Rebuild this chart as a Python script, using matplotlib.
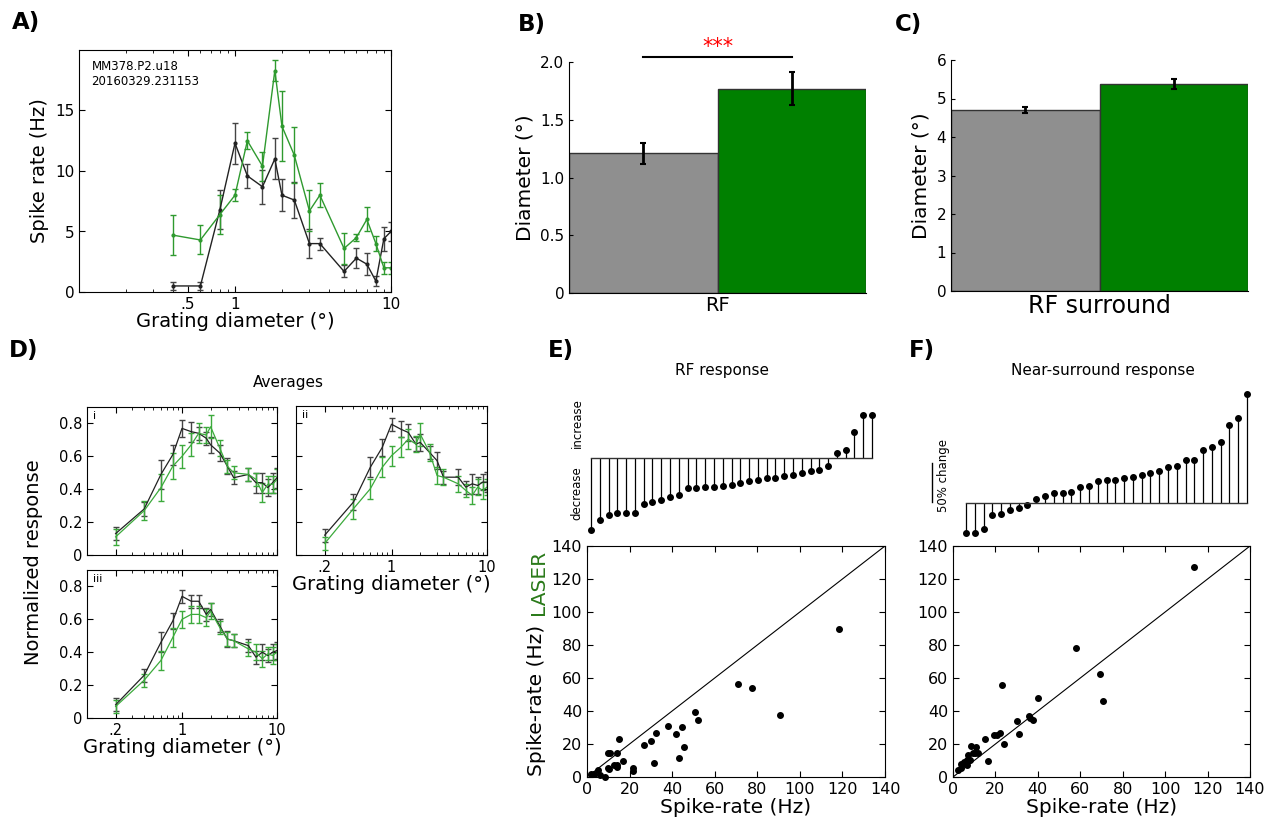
import numpy as np
import matplotlib
matplotlib.use('Agg')
import matplotlib.pyplot as plt
from matplotlib.ticker import FixedLocator, FixedFormatter, NullFormatter, LogLocator

W, H = 1265, 817

# ---- panel A: example unit, tuning curve ----
diam_a = [0.4, 0.6, 0.8, 1.0, 1.2, 1.5, 1.8, 2.0, 2.4, 3.0, 3.5, 5.0, 6.0, 7.0, 8.0, 9.0, 10.0]
ctrl_a = [0.5, 0.5, 6.8, 12.3, 9.6, 8.7, 11.0, 8.0, 7.6, 4.0, 4.0, 1.7, 2.8, 2.3, 0.9, 4.4, 5.0]
ctrl_a_err = [0.35, 0.35, 1.6, 1.7, 1.0, 1.4, 1.7, 1.3, 1.5, 1.2, 0.5, 0.5, 0.8, 0.9, 0.4, 1.0, 0.8]
laser_a = [4.7, 4.3, 6.4, 8.0, 12.5, 10.4, 18.3, 13.7, 11.3, 6.7, 8.0, 3.6, 4.5, 6.0, 4.0, 2.0, 2.0]
laser_a_err = [1.65, 1.2, 1.6, 0.5, 0.7, 1.2, 0.9, 2.9, 2.3, 1.7, 1.0, 1.3, 0.3, 1.0, 0.6, 0.5, 0.5]

# ---- panels B, C: bar charts ----
rf_diam = [1.21, 1.77]
rf_diam_err = [0.09, 0.14]
surr_diam = [4.71, 5.38]
surr_diam_err = [0.08, 0.13]

# ---- panel D: population averages ----
diam_d = [0.2, 0.4, 0.6, 0.8, 1.0, 1.25, 1.5, 1.8, 2.0, 2.5, 3.0, 3.5, 5.0, 6.0, 7.0, 8.0, 9.0, 10.0]
ctrl_i = [0.13, 0.28, 0.49, 0.61, 0.77, 0.75, 0.74, 0.71, 0.67, 0.62, 0.54, 0.47, 0.49, 0.44, 0.44, 0.41, 0.44, 0.47]
ctrl_i_err = [0.04, 0.04, 0.09, 0.06, 0.05, 0.06, 0.04, 0.04, 0.05, 0.05, 0.05, 0.04, 0.04, 0.06, 0.06, 0.05, 0.06, 0.06]
laser_i = [0.11, 0.27, 0.41, 0.54, 0.60, 0.67, 0.74, 0.73, 0.78, 0.65, 0.54, 0.50, 0.49, 0.46, 0.38, 0.43, 0.43, 0.46]
laser_i_err = [0.05, 0.06, 0.08, 0.08, 0.07, 0.07, 0.06, 0.05, 0.07, 0.05, 0.04, 0.04, 0.04, 0.04, 0.06, 0.05, 0.05, 0.06]
ctrl_ii = [0.12, 0.32, 0.53, 0.65, 0.79, 0.76, 0.74, 0.67, 0.68, 0.62, 0.57, 0.47, 0.47, 0.41, 0.43, 0.42, 0.44, 0.44]
ctrl_ii_err = [0.04, 0.05, 0.06, 0.05, 0.04, 0.05, 0.05, 0.04, 0.05, 0.04, 0.05, 0.04, 0.05, 0.04, 0.06, 0.05, 0.05, 0.06]
laser_ii = [0.07, 0.28, 0.40, 0.53, 0.60, 0.65, 0.70, 0.67, 0.73, 0.62, 0.48, 0.47, 0.43, 0.39, 0.36, 0.41, 0.39, 0.41]
laser_ii_err = [0.04, 0.06, 0.06, 0.06, 0.06, 0.06, 0.06, 0.05, 0.07, 0.05, 0.05, 0.05, 0.05, 0.04, 0.05, 0.05, 0.05, 0.05]
ctrl_iii = [0.08, 0.26, 0.46, 0.59, 0.74, 0.71, 0.71, 0.63, 0.66, 0.56, 0.48, 0.47, 0.44, 0.37, 0.40, 0.38, 0.40, 0.41]
ctrl_iii_err = [0.04, 0.04, 0.06, 0.05, 0.04, 0.04, 0.04, 0.04, 0.04, 0.04, 0.05, 0.04, 0.04, 0.04, 0.05, 0.04, 0.05, 0.05]
laser_iii = [0.07, 0.23, 0.35, 0.49, 0.60, 0.63, 0.63, 0.61, 0.65, 0.55, 0.48, 0.47, 0.42, 0.40, 0.36, 0.39, 0.38, 0.40]
laser_iii_err = [0.04, 0.04, 0.06, 0.06, 0.05, 0.05, 0.05, 0.05, 0.05, 0.04, 0.04, 0.04, 0.04, 0.05, 0.05, 0.04, 0.05, 0.05]

# ---- panels E, F: % change per unit (sorted) ----
rf_change = [-93, -80, -73, -71, -71, -71, -59, -57, -54, -50, -48, -39, -39, -38, -38,
             -36, -35, -32, -30, -29, -26.5, -26, -23.5, -22, -19, -17, -16, -11,
             5.6, 10, 33, 55, 55]
surr_change = [-39, -39, -34, -16, -15, -9.4, -6.8, -2.6, 4.3, 8.5, 12, 12, 13.7, 20, 21,
               28, 29, 29.5, 31, 32.5, 35, 38.5, 40.6, 46, 47, 55, 55, 67.5, 71, 78,
               99, 109, 139]

# ---- panels E, F: control vs laser spike rates ----
rf_ctrl = [118.6, 71.0, 77.6, 90.6, 50.8, 52.1, 37.9, 44.7, 41.6, 32.2, 30.2, 26.9, 45.7,
           43.0, 31.3, 15.2, 9.7, 10.9, 14.1, 16.7, 12.5, 13.9, 14.2, 9.7, 10.5, 21.4,
           21.4, 5.2, 3.4, 6.3, 8.3, 2.0]
rf_laser = [89.7, 56.6, 53.9, 37.6, 39.2, 34.5, 30.9, 30.5, 26.1, 26.5, 21.8, 19.2, 18.0,
            11.3, 8.3, 22.8, 14.5, 14.3, 14.3, 9.7, 7.5, 6.1, 7.1, 5.5, 4.8, 5.5,
            3.6, 4.2, 1.8, 1.2, 0.0, 2.0]
surr_ctrl = [113.8, 57.9, 69.2, 70.5, 23.2, 39.9, 35.8, 36.1, 37.7, 30.1, 31.1, 24.0, 22.3,
             20.6, 19.5, 14.9, 16.5, 8.6, 11.0, 9.3, 10.2, 11.6, 7.2, 8.2, 6.7, 6.6,
             6.1, 3.9, 3.9, 2.2, 5.3]
surr_laser = [127.3, 78.2, 62.2, 45.9, 55.8, 47.9, 37.2, 35.8, 34.7, 33.7, 26.1, 19.8, 26.9,
              25.7, 25.3, 23.0, 9.9, 18.6, 18.2, 14.7, 14.7, 14.7, 13.5, 10.1, 10.1, 7.5,
              8.1, 8.1, 5.7, 4.0, 9.1]

GREEN_LINE = '#2f9a2f'
GREEN_BAR = '#008000'
GRAY_BAR = '#8f8f8f'


def rect(x0, y0, x1, y1):
    # pixel box (top-left origin) -> figure fraction
    return [x0 / W, 1 - y1 / H, (x1 - x0) / W, (y1 - y0) / H]


def ptext(fig, x, y, s, **kw):
    fig.text(x / W, 1 - y / H, s, **kw)


def inward(ax, size):
    ax.tick_params(which='both', direction='in', top=True, right=True, labelsize=size)
    ax.tick_params(which='major', length=4)
    ax.tick_params(which='minor', length=2)


def tuning(ax, x, c, ce, l, le, green, lw=1.0, ms=2):
    ax.errorbar(x, c, yerr=ce, color='#222222', ecolor='#444444', lw=lw, elinewidth=1,
                capsize=2, marker='o', ms=ms)
    ax.errorbar(x, l, yerr=le, color=green, ecolor=green, lw=lw, elinewidth=1,
                capsize=2, marker='o', ms=ms)
    ax.set_xscale('log')
    ax.set_xlim(0.1, 10)


fig = plt.figure(figsize=(W / 100, H / 100), dpi=100)

# ---------- A ----------
axA = fig.add_axes(rect(79, 50, 391, 292))
tuning(axA, diam_a, ctrl_a, ctrl_a_err, laser_a, laser_a_err, GREEN_LINE)
axA.set_ylim(0, 20)
axA.set_yticks([0, 5, 10, 15])
axA.set_yticklabels(['0', '5', '10', '15'])
axA.xaxis.set_major_locator(FixedLocator([0.5, 1, 10]))
axA.xaxis.set_major_formatter(FixedFormatter(['.5', '1', '10']))
axA.xaxis.set_minor_locator(LogLocator(subs=np.arange(2, 10)))
axA.xaxis.set_minor_formatter(NullFormatter())
inward(axA, 11)
axA.set_ylabel('Spike rate (Hz)', fontsize=14, labelpad=4)
axA.set_xlabel('Grating diameter (°)', fontsize=14, labelpad=0)
axA.text(0.04, 0.96, 'MM378.P2.u18\n20160329.231153', transform=axA.transAxes,
         ha='left', va='top', fontsize=8.5, linespacing=1.2)

# ---------- B, C ----------
def bars(ax, vals, errs, top, ticks, label, lsize):
    ax.bar([0, 1], vals, width=1.0, color=[GRAY_BAR, GREEN_BAR], edgecolor='#333333',
           linewidth=1, yerr=errs, capsize=2,
           error_kw=dict(elinewidth=2, capthick=1.5, ecolor='k'))
    ax.set_xlim(-0.5, 1.5)
    ax.set_ylim(0, top)
    ax.spines['top'].set_visible(False)
    ax.spines['right'].set_visible(False)
    ax.set_yticks(ticks)
    ax.set_yticklabels(['0'] + [('%g' % t if float(t).is_integer() and top > 3 else '%.1f' % t)
                                for t in ticks[1:]])
    ax.tick_params(axis='y', direction='in', length=3, labelsize=11)
    ax.set_xticks([0.5])
    ax.set_xticklabels([label], fontsize=lsize)
    ax.tick_params(axis='x', length=0, pad=2)
    ax.set_ylabel('Diameter (°)', fontsize=14.5, labelpad=4)


axB = fig.add_axes(rect(569, 62, 866, 293))
bars(axB, rf_diam, rf_diam_err, 2.0, [0, 0.5, 1.0, 1.5, 2.0], 'RF', 14)
axB.plot([0, 1], [2.04, 2.04], color='k', lw=1.5, clip_on=False)
axB.text(0.5, 2.045, '***', color='red', ha='center', va='bottom', fontsize=15)

axC = fig.add_axes(rect(951, 60, 1248, 291))
bars(axC, surr_diam, surr_diam_err, 6, [0, 1, 2, 3, 4, 5, 6], 'RF surround', 17)

# ---------- D ----------
d_boxes = [(87, 407, 277, 555), (296, 406, 487, 555), (87, 570, 277, 718)]
d_sets = [(ctrl_i, ctrl_i_err, laser_i, laser_i_err),
          (ctrl_ii, ctrl_ii_err, laser_ii, laser_ii_err),
          (ctrl_iii, ctrl_iii_err, laser_iii, laser_iii_err)]
d_tags = ['i', 'ii', 'iii']
for k in range(3):
    ax = fig.add_axes(rect(*d_boxes[k]))
    c, ce, l, le = d_sets[k]
    tuning(ax, diam_d, c, ce, l, le, '#3caa3c', lw=0.9, ms=0)
    ax.set_ylim(0, 0.9)
    ax.set_yticks([0, 0.2, 0.4, 0.6, 0.8])
    ax.set_yticklabels(['0', '0.2', '0.4', '0.6', '0.8'])
    ax.xaxis.set_major_locator(FixedLocator([0.2, 1, 10]))
    ax.xaxis.set_major_formatter(FixedFormatter(['.2', '1', '10']))
    ax.xaxis.set_minor_locator(LogLocator(subs=np.arange(2, 10)))
    ax.xaxis.set_minor_formatter(NullFormatter())
    inward(ax, 10.5)
    if k == 0:
        ax.set_xticklabels([])
    if k == 1:
        ax.set_yticklabels([])
    if k > 0:
        ax.set_xlabel('Grating diameter (°)', fontsize=14, labelpad=0)
    ax.text(0.03, 0.97, d_tags[k], transform=ax.transAxes, ha='left', va='top', fontsize=8)

ptext(fig, 288, 383, 'Averages', ha='center', va='center', fontsize=11)
ptext(fig, 34, 562, 'Normalized response', ha='center', va='center', rotation=90, fontsize=14)

# ---------- E, F stems ----------
def stems(box, vals, ylo, yhi):
    ax = fig.add_axes(rect(*box))
    idx = np.arange(len(vals))
    ml, sl, bl = ax.stem(idx, vals, linefmt='k-', markerfmt='ko', basefmt='k-')
    ml.set_markersize(4)
    sl.set_linewidth(0.9)
    bl.set_linewidth(1.0)
    bl.set_color('#333333')
    for art in (ml, sl, bl):
        art.set_clip_on(False)
    ax.set_xlim(0, len(vals) - 1)
    ax.set_ylim(ylo, yhi)
    ax.axis('off')
    return ax


stems((591, 380, 872, 540), rf_change, -105.5, 99.6)
stems((966, 380, 1247, 540), surr_change, -47.8, 157)

ptext(fig, 722, 370, 'RF response', ha='center', va='center', fontsize=11)
ptext(fig, 1103, 370, 'Near-surround response', ha='center', va='center', fontsize=11)
ptext(fig, 577, 423, 'increase', ha='center', va='center', rotation=90, fontsize=8.5)
ptext(fig, 577, 493, 'decrease', ha='center', va='center', rotation=90, fontsize=8.5)
ptext(fig, 944, 476, '50% change', ha='center', va='center', rotation=90, fontsize=8.5)
fig.add_artist(plt.Line2D([932 / W, 932 / W], [1 - 462.7 / H, 1 - 501.7 / H], color='k', lw=1))

# ---------- E, F scatter ----------
def scatter(box, xs, ys):
    ax = fig.add_axes(rect(*box))
    ax.plot([0, 140], [0, 140], color='k', lw=0.8)
    ax.plot(xs, ys, 'o', color='k', ms=4, clip_on=False)
    ax.set_xlim(0, 140)
    ax.set_ylim(0, 140)
    ax.set_xticks(range(0, 141, 20))
    ax.set_yticks(range(0, 141, 20))
    inward(ax, 11.5)
    ax.set_xlabel('Spike-rate (Hz)', fontsize=14.5, labelpad=1)
    return ax


scatter((587, 546, 885, 777), rf_ctrl, rf_laser)
scatter((953, 546, 1250, 777), surr_ctrl, surr_laser)
ptext(fig, 537, 700, 'Spike-rate (Hz)', ha='center', va='center', rotation=90, fontsize=14.5)
ptext(fig, 539, 582, 'LASER', ha='center', va='center', rotation=90, fontsize=14.5,
      color='#2a7a1a')

# ---------- panel letters ----------
for s, x, y in [('A)', 26, 23), ('B)', 532, 24), ('C)', 908, 24),
                ('D)', 24, 350), ('E)', 561, 350), ('F)', 922, 350)]:
    ptext(fig, x, y, s, ha='center', va='center', fontsize=16.5, fontweight='bold')

fig.savefig('out.png', dpi=100, facecolor='white')
